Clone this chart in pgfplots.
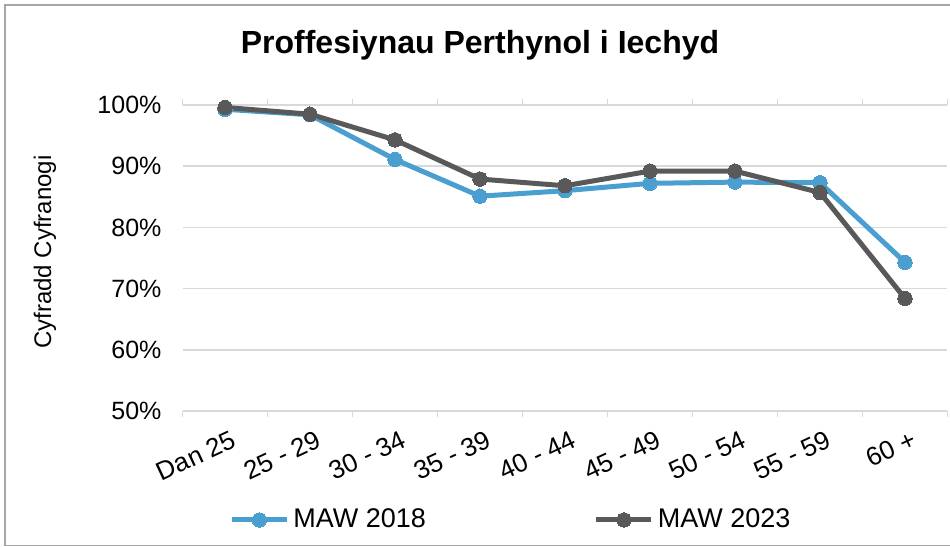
\documentclass[border=0pt]{standalone}
\usepackage{pgfplots}
\pgfplotsset{compat=1.18}
\usepackage{fontspec}
\setmainfont{Liberation Sans}
\definecolor{blue18}{HTML}{4A9FD0}
\definecolor{gray23}{HTML}{595959}
\definecolor{gridc}{HTML}{D9D9D9}
\definecolor{borderc}{HTML}{A6A6A6}
\begin{document}
\begin{tikzpicture}
\useasboundingbox (0,0) rectangle (475pt,273.5pt);
\draw[borderc, line width=0.8pt] (480pt,271pt) -- (2.5pt,271pt) -- (2.5pt,0.7pt) -- (480pt,0.7pt);
\begin{axis}[
  at={(91.25pt,68pt)}, anchor=south west,
  scale only axis, width=382.5pt, height=153pt,
  xmin=-0.5, xmax=8.5, ymin=50, ymax=100,
  axis line style={draw=none},
  ymajorgrids, grid style={gridc, line width=0.8pt},
  xtick={0,...,8},
  xticklabels={Dan 25, 25 - 29, 30 - 34, 35 - 39, 40 - 44, 45 - 49, 50 - 54, 55 - 59, 60 +},
  minor xtick={-0.5,0.5,...,8.5},
  major tick length=0pt, minor tick length=3pt,
  tick align=outside,
  minor tick style={gridc, line width=0.8pt},
  ytick={50,60,...,100},
  yticklabel={\pgfmathprintnumber{\tick}\%},
  yticklabel style={anchor=east, xshift=-7pt, font=\fontsize{12.5}{15}\selectfont},
  xticklabel style={rotate=25, anchor=north east, xshift=2pt, yshift=-6pt, font=\fontsize{13}{15}\selectfont},
  /pgf/number format/assume math mode=true,
  legend columns=2,
  legend style={at={(0.4307,-0.356)}, anchor=center, draw=none, fill=none,
    font=\fontsize{13.5}{16}\selectfont,
    /tikz/every even column/.append style={column sep=82pt},
    /tikz/every odd column/.append style={column sep=0pt}},
  legend image code/.code={\draw[#1, mark repeat=2, mark phase=2] plot coordinates {(0pt,0pt)(13.75pt,0pt)(27.5pt,0pt)};},
]
\addplot[blue18, line width=2.5pt, mark=*, mark size=3.6pt, mark options={solid, fill=blue18, draw=blue18, line width=0pt}]
  coordinates {(0,99.3)(1,98.4)(2,91.1)(3,85.1)(4,86.0)(5,87.2)(6,87.4)(7,87.3)(8,74.3)};
\addlegendentry{MAW 2018}
\addplot[gray23, line width=2.5pt, mark=*, mark size=3.6pt, mark options={solid, fill=gray23, draw=gray23, line width=0pt}]
  coordinates {(0,99.6)(1,98.5)(2,94.3)(3,87.9)(4,86.8)(5,89.2)(6,89.2)(7,85.7)(8,68.4)};
\addlegendentry{MAW 2023}
\end{axis}
\node[font=\fontsize{16}{19}\selectfont\bfseries] at (240pt,251pt) {Proffesiynau Perthynol i Iechyd};
\node[rotate=90, font=\fontsize{12}{14}\selectfont] at (22.5pt,147.5pt) {Cyfradd Cyfranogi};
\end{tikzpicture}
\end{document}
